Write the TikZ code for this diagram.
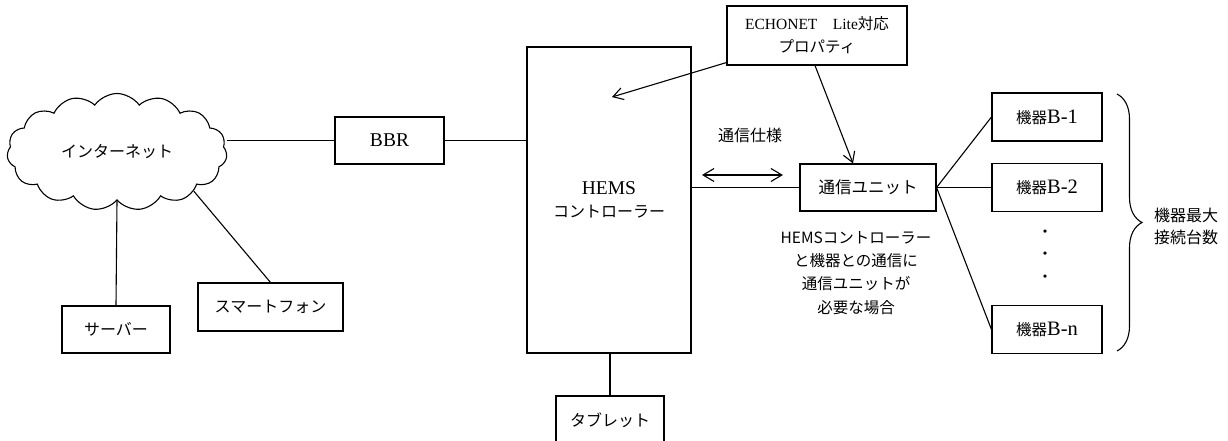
\documentclass[tikz,border=0pt]{standalone}
\usepackage{fontspec}
\setmainfont{Liberation Serif}
\newfontfamily\jp{Noto Sans CJK JP}
\usetikzlibrary{shapes.symbols,arrows.meta,decorations.pathreplacing}

\begin{document}
\begin{tikzpicture}[x=1pt,y=-1pt]
    \tikzset{box/.style={draw,line width=1.1pt,minimum width=#1,minimum height=47pt,inner sep=0pt,fill=white,align=center},
             jp label/.style={font=\jp\fontsize{16}{19}\selectfont},
             link/.style={line width=1.1pt},
             barb/.style={line width=1.1pt,-{Straight Barb[length=10pt,width=12pt]}}}
    \useasboundingbox (0,0) rectangle (1228,441);

    \node [cloud,cloud puffs=15,cloud puff arc=110,cloud ignores aspect,draw,line width=1.1pt,minimum width=220pt,minimum height=117pt,jp label] (NET) at (117,152) {インターネット};
    \node [box=109pt,font=\fontsize{19.5}{22}\selectfont] (BBR) at (389.5,140.5) {BBR};
    \node [box=108pt,jp label] (SERVER) at (116,329.5) {サーバー};
    \node [box=145pt,minimum height=48pt,jp label] (PHONE) at (270.5,307) {スマートフォン};
    \node [box=164pt,minimum height=306pt,font=\fontsize{19.5}{23}\selectfont] (HEMS) at (609,200) {HEMS\\{\jp\fontsize{16}{23}\selectfont コントローラー}};
    \node [box=108pt,minimum height=48pt,jp label] (TABLET) at (610,420) {タブレット};
    \node [box=180pt,minimum height=59pt,font=\fontsize{15.5}{23}\selectfont] (PROP) at (817,35.5) {ECHONET{\jp 　}Lite{\jp 対応}\\{\jp プロパティ}};
    \node [box=136pt,font=\jp\fontsize{16.5}{19}\selectfont] (UNIT) at (868,187.5) {通信ユニット};
    \node [box=110pt,minimum height=48pt,font=\fontsize{20.5}{23}\selectfont] (B1) at (1047,117) {{\jp\fontsize{15.5}{23}\selectfont 機器}B-1};
    \node [box=110pt,minimum height=48pt,font=\fontsize{20.5}{23}\selectfont] (B2) at (1047,187.5) {{\jp\fontsize{15.5}{23}\selectfont 機器}B-2};
    \node [box=110pt,minimum height=48pt,font=\fontsize{20.5}{23}\selectfont] (BN) at (1047,329.5) {{\jp\fontsize{15.5}{23}\selectfont 機器}B-n};

    \node [align=center,font=\jp\fontsize{15.5}{22.5}\selectfont] (DOTS) at (1045,256) {・\\・\\・};
    \node [jp label] (SPEC) at (750,135) {通信仕様};
    \node [align=center,font=\jp\fontsize{15.5}{23.3}\selectfont] (NOTE) at (856,273) {HEMSコントローラー\\と機器との通信に\\通信ユニットが\\必要な場合};
    \node [align=center,font=\jp\fontsize{16}{22}\selectfont] (MAX) at (1186,226) {機器最大\\接続台数};

    \coordinate (SPECL) at (702,175);
    \coordinate (SPECR) at (783,175);
    \coordinate (PROPIN) at (612,97);
    \coordinate (BRT) at (1117,94);
    \coordinate (BRB) at (1117,351);

    \draw [link] (NET.east |- BBR.west) -- (BBR.west);
    \draw [link] (NET.south) -- (SERVER.north);
    \draw [link] (NET.-27) -- (PHONE.north);
    \draw [link] (BBR.east) -- (BBR.east -| HEMS.west);
    \draw [link] (HEMS.south -| TABLET.north) -- (TABLET.north);
    \draw [link] (UNIT.west -| HEMS.east) -- (UNIT.west);
    \draw [link] (UNIT.east) -- (B1.west);
    \draw [link] (UNIT.east) -- (B2.west);
    \draw [link] (UNIT.east) -- (BN.west);
    \draw [barb] ([yshift=3pt]PROP.south west) -- (PROPIN);
    \draw [barb] ([xshift=-2pt]PROP.south) -- ([xshift=-15pt]UNIT.north);
    \draw [link,{Straight Barb[length=11pt,width=13pt]}-{Straight Barb[length=11pt,width=13pt]}] (SPECL) -- (SPECR);
    \draw [link,decorate,decoration={brace,amplitude=25pt}] (BRT) -- (BRB);
  \end{tikzpicture}
\end{document}
